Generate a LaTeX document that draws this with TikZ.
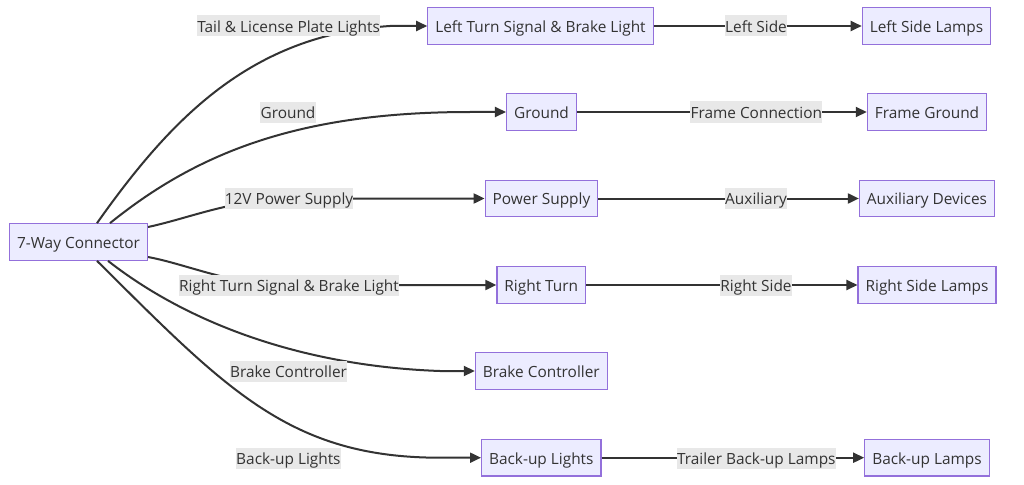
\documentclass[tikz,border=0pt]{standalone}
\usepackage{fontspec}
\setmainfont{Open Sans}
\usetikzlibrary{arrows.meta}
\definecolor{nodefill}{HTML}{ECECFF}
\definecolor{nodeline}{HTML}{9370DB}
\definecolor{ink}{HTML}{333333}
\definecolor{lblbg}{HTML}{E8E8E8}
\begin{document}
\begin{tikzpicture}[x=1pt,y=-1pt,
  box/.style={draw=nodeline,fill=nodefill,line width=1.2pt,text=ink,
    minimum height=36.5pt,inner xsep=7.5pt,text height=14.6pt,text depth=2pt,
    font=\fontsize{15.4}{18}\selectfont},
  lbl/.style={fill=lblbg,text=ink,inner xsep=0.3pt,inner ysep=2.2pt,
    text height=14.6pt,text depth=2pt,
    font=\fontsize{15.4}{18}\selectfont},
  conn/.style={draw=ink,line width=2pt,-{Triangle[length=11pt,width=10pt]}}]
\useasboundingbox (0,0) rectangle (1024,484);
\fill[white] (0,0) rectangle (1024,484);

% nodes
\node[box] (c7) at (78.5,242) {7-Way Connector};
\node[box] (lt) at (540.5,26) {Left Turn Signal \& Brake Light};
\node[box] (ll) at (926.5,26) {Left Side Lamps};
\node[box] (gd) at (541.5,112) {Ground};
\node[box] (fg) at (927,112) {Frame Ground};
\node[box] (ps) at (541.5,198.5) {Power Supply};
\node[box] (ad) at (927,198.5) {Auxiliary Devices};
\node[box] (rt) at (541.3,285) {Right Turn};
\node[box] (rl) at (927,285) {Right Side Lamps};
\node[box] (bc) at (541.3,371) {Brake Controller};
\node[box] (bl) at (541.3,457.7) {Back-up Lights};
\node[box] (bk) at (927,457.7) {Back-up Lamps};

% anchors on the connector
\coordinate (s1) at ([xshift=18.5pt]c7.north);
\coordinate (s2) at ([xshift=31.5pt]c7.north);
\coordinate (s3) at ([yshift=15pt]c7.east);
\coordinate (s4) at ([yshift=-15pt]c7.east);
\coordinate (s5) at ([xshift=29.5pt]c7.south);
\coordinate (s6) at ([xshift=18.5pt]c7.south);

% curved edges from connector
\draw[conn] (s1) .. controls (170,120) and (250,35) .. (390,26) -- (lt.west);
\draw[conn] (s2) .. controls (198,152) and (300,112) .. (470,112) -- (gd.west);
\draw[conn] (s3) .. controls (190,218) and (230,200) .. (290,198.5) -- (ps.west);
\draw[conn] (s4) .. controls (190,265) and (230,285) .. (290,285) -- (rt.west);
\draw[conn] (s5) .. controls (186,322) and (300,366) .. (440,371) -- (bc.west);
\draw[conn] (s6) .. controls (227,390) and (290,457.7) .. (440,457.7) -- (bl.west);

% labels on curved edges
\node[lbl] (e1) at (288.6,26) {Tail \& License Plate Lights};
\node[lbl] (e2) at (288,112.5) {Ground};
\node[lbl] (e3) at (289,198.5) {12V Power Supply};
\node[lbl] (e4) at (289,285) {Right Turn Signal \& Brake Light};
\node[lbl] (e5) at (288.5,371) {Brake Controller};
\node[lbl] (e6) at (288.4,458) {Back-up Lights};

% straight edges
\draw[conn] (lt.east) -- (ll.west);
\draw[conn] (gd.east) -- (fg.west);
\draw[conn] (ps.east) -- (ad.west);
\draw[conn] (rt.east) -- (rl.west);
\draw[conn] (bl.east) -- (bk.west);

\node[lbl] (f1) at (756,26) {Left Side};
\node[lbl] (f2) at (756.3,112) {Frame Connection};
\node[lbl] (f3) at (756,198.5) {Auxiliary};
\node[lbl] (f4) at (756,285) {Right Side};
\node[lbl] (f5) at (756.3,458) {Trailer Back-up Lamps};
\end{tikzpicture}
\end{document}
